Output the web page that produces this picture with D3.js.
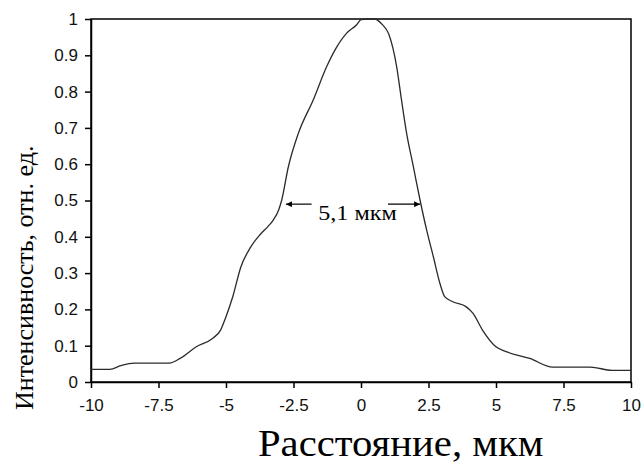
<!DOCTYPE html>
<html>
<head>
<meta charset="utf-8">
<script src="https://cdn.jsdelivr.net/npm/d3@7"></script>
<style>
  body { margin: 0; background: #fff; }
  svg { display: block; }
</style>
</head>
<body>
<div id="chart"></div>
<script>
// profile
const distance = [-10, -9.3, -8.9, -8.4, -7.1, -6.7, -6.1, -5.5, -5.2, -5.0, -4.75, -4.45, -4.1, -3.75, -3.45, -3.25, -3.05, -2.94, -2.69, -2.32, -1.77, -1.27, -0.96, -0.53, -0.16, 0, 0.25, 0.5, 0.8, 1.02, 1.32, 1.5, 1.69, 1.94, 2.19, 2.43, 2.68, 2.93, 3.1, 3.4, 3.9, 4.15, 4.5, 5.0, 5.4, 6.25, 7.1, 8.5, 9.3, 10];
const intensity = [0.035, 0.035, 0.045, 0.052, 0.052, 0.065, 0.097, 0.12, 0.143, 0.18, 0.235, 0.317, 0.37, 0.405, 0.428, 0.446, 0.474, 0.50, 0.593, 0.685, 0.777, 0.869, 0.915, 0.961, 0.984, 0.998, 1.0, 1.0, 0.984, 0.96, 0.869, 0.777, 0.685, 0.593, 0.50, 0.419, 0.345, 0.27, 0.235, 0.221, 0.207, 0.189, 0.143, 0.097, 0.083, 0.065, 0.041, 0.041, 0.032, 0.032];
const xTicks = [-10, -7.5, -5, -2.5, 0, 2.5, 5, 7.5, 10];
const yTicks = [0, 0.1, 0.2, 0.3, 0.4, 0.5, 0.6, 0.7, 0.8, 0.9, 1];
const fwhmLeft = [-2.78, -1.83];
const fwhmRight = [1.0, 2.19];
const fwhmLevel = 0.49;
const fwhmLabel = "5,1 мкм";

const W = 643, H = 463;
const margin = { top: 19, right: 12, bottom: 81, left: 91 };
const width = W - margin.left - margin.right;
const height = H - margin.top - margin.bottom;
const serif = "'Liberation Serif', 'Times New Roman', serif";

const svg = d3.select("#chart")
  .append("svg")
  .attr("width", W)
  .attr("height", H);

const g = svg.append("g")
  .attr("transform", `translate(${margin.left}, ${margin.top})`);

const x = d3.scaleLinear().domain([-10, 10]).range([0, width]);
const y = d3.scaleLinear().domain([0, 1]).range([height, 0]);

// frame
g.append("rect")
  .attr("width", width)
  .attr("height", height)
  .attr("fill", "none")
  .attr("stroke", "#000")
  .attr("stroke-width", 1.5);

const xAxis = g.append("g")
  .attr("transform", `translate(0, ${height})`)
  .call(d3.axisBottom(x).tickValues(xTicks).tickSize(6).tickSizeOuter(0).tickPadding(11)
    .tickFormat(d => String(d)));

const yAxis = g.append("g")
  .call(d3.axisLeft(y).tickValues(yTicks).tickSize(6).tickSizeOuter(0).tickPadding(7)
    .tickFormat(d => String(d)));

[xAxis, yAxis].forEach(a => {
  a.select(".domain").attr("stroke-width", 1.5);
  a.selectAll(".tick line").attr("stroke-width", 1.5);
  a.selectAll("text")
    .attr("fill", "#111")
    .style("font-family", "'Liberation Sans', Arial, sans-serif")
    .style("font-size", "17px");
});

// curve
const pts = distance.map((d, i) => [d, intensity[i]]);
g.append("path")
  .datum(pts)
  .attr("fill", "none")
  .attr("stroke", "#2a2a2a")
  .attr("stroke-width", 1.3)
  .attr("d", d3.line().x(d => x(d[0])).y(d => y(d[1])).curve(d3.curveMonotoneX));

// FWHM arrows
svg.append("defs").append("marker")
  .attr("id", "arrow")
  .attr("viewBox", "0 0 10 10")
  .attr("refX", 10).attr("refY", 5)
  .attr("markerWidth", 7).attr("markerHeight", 6)
  .attr("markerUnits", "userSpaceOnUse")
  .attr("orient", "auto")
  .append("path")
  .attr("d", "M0,0 L10,5 L0,10 Z")
  .attr("fill", "#000");

g.append("line")
  .attr("x1", x(fwhmLeft[1])).attr("x2", x(fwhmLeft[0]))
  .attr("y1", y(fwhmLevel)).attr("y2", y(fwhmLevel))
  .attr("stroke", "#000").attr("stroke-width", 1.2)
  .attr("marker-end", "url(#arrow)");

g.append("line")
  .attr("x1", x(fwhmRight[0])).attr("x2", x(fwhmRight[1]))
  .attr("y1", y(fwhmLevel)).attr("y2", y(fwhmLevel))
  .attr("stroke", "#000").attr("stroke-width", 1.2)
  .attr("marker-end", "url(#arrow)");

// label is a bit wider than the font, so stretch it horizontally
g.append("text")
  .attr("transform", `translate(${x(-0.13)}, ${y(fwhmLevel) + 16}) scale(1.15, 1)`)
  .attr("text-anchor", "middle")
  .style("font-family", serif)
  .style("font-size", "21px")
  .text(fwhmLabel);

// axis titles
svg.append("text")
  .attr("transform", "translate(258, 456) scale(1.1, 1)")
  .style("font-family", serif)
  .style("font-size", "37px")
  .text("Расстояние, мкм");

svg.append("text")
  .attr("transform", "translate(33, 410) rotate(-90)")
  .style("font-family", serif)
  .style("font-size", "26px")
  .text("Интенсивность, отн. ед.");
</script>
</body>
</html>
